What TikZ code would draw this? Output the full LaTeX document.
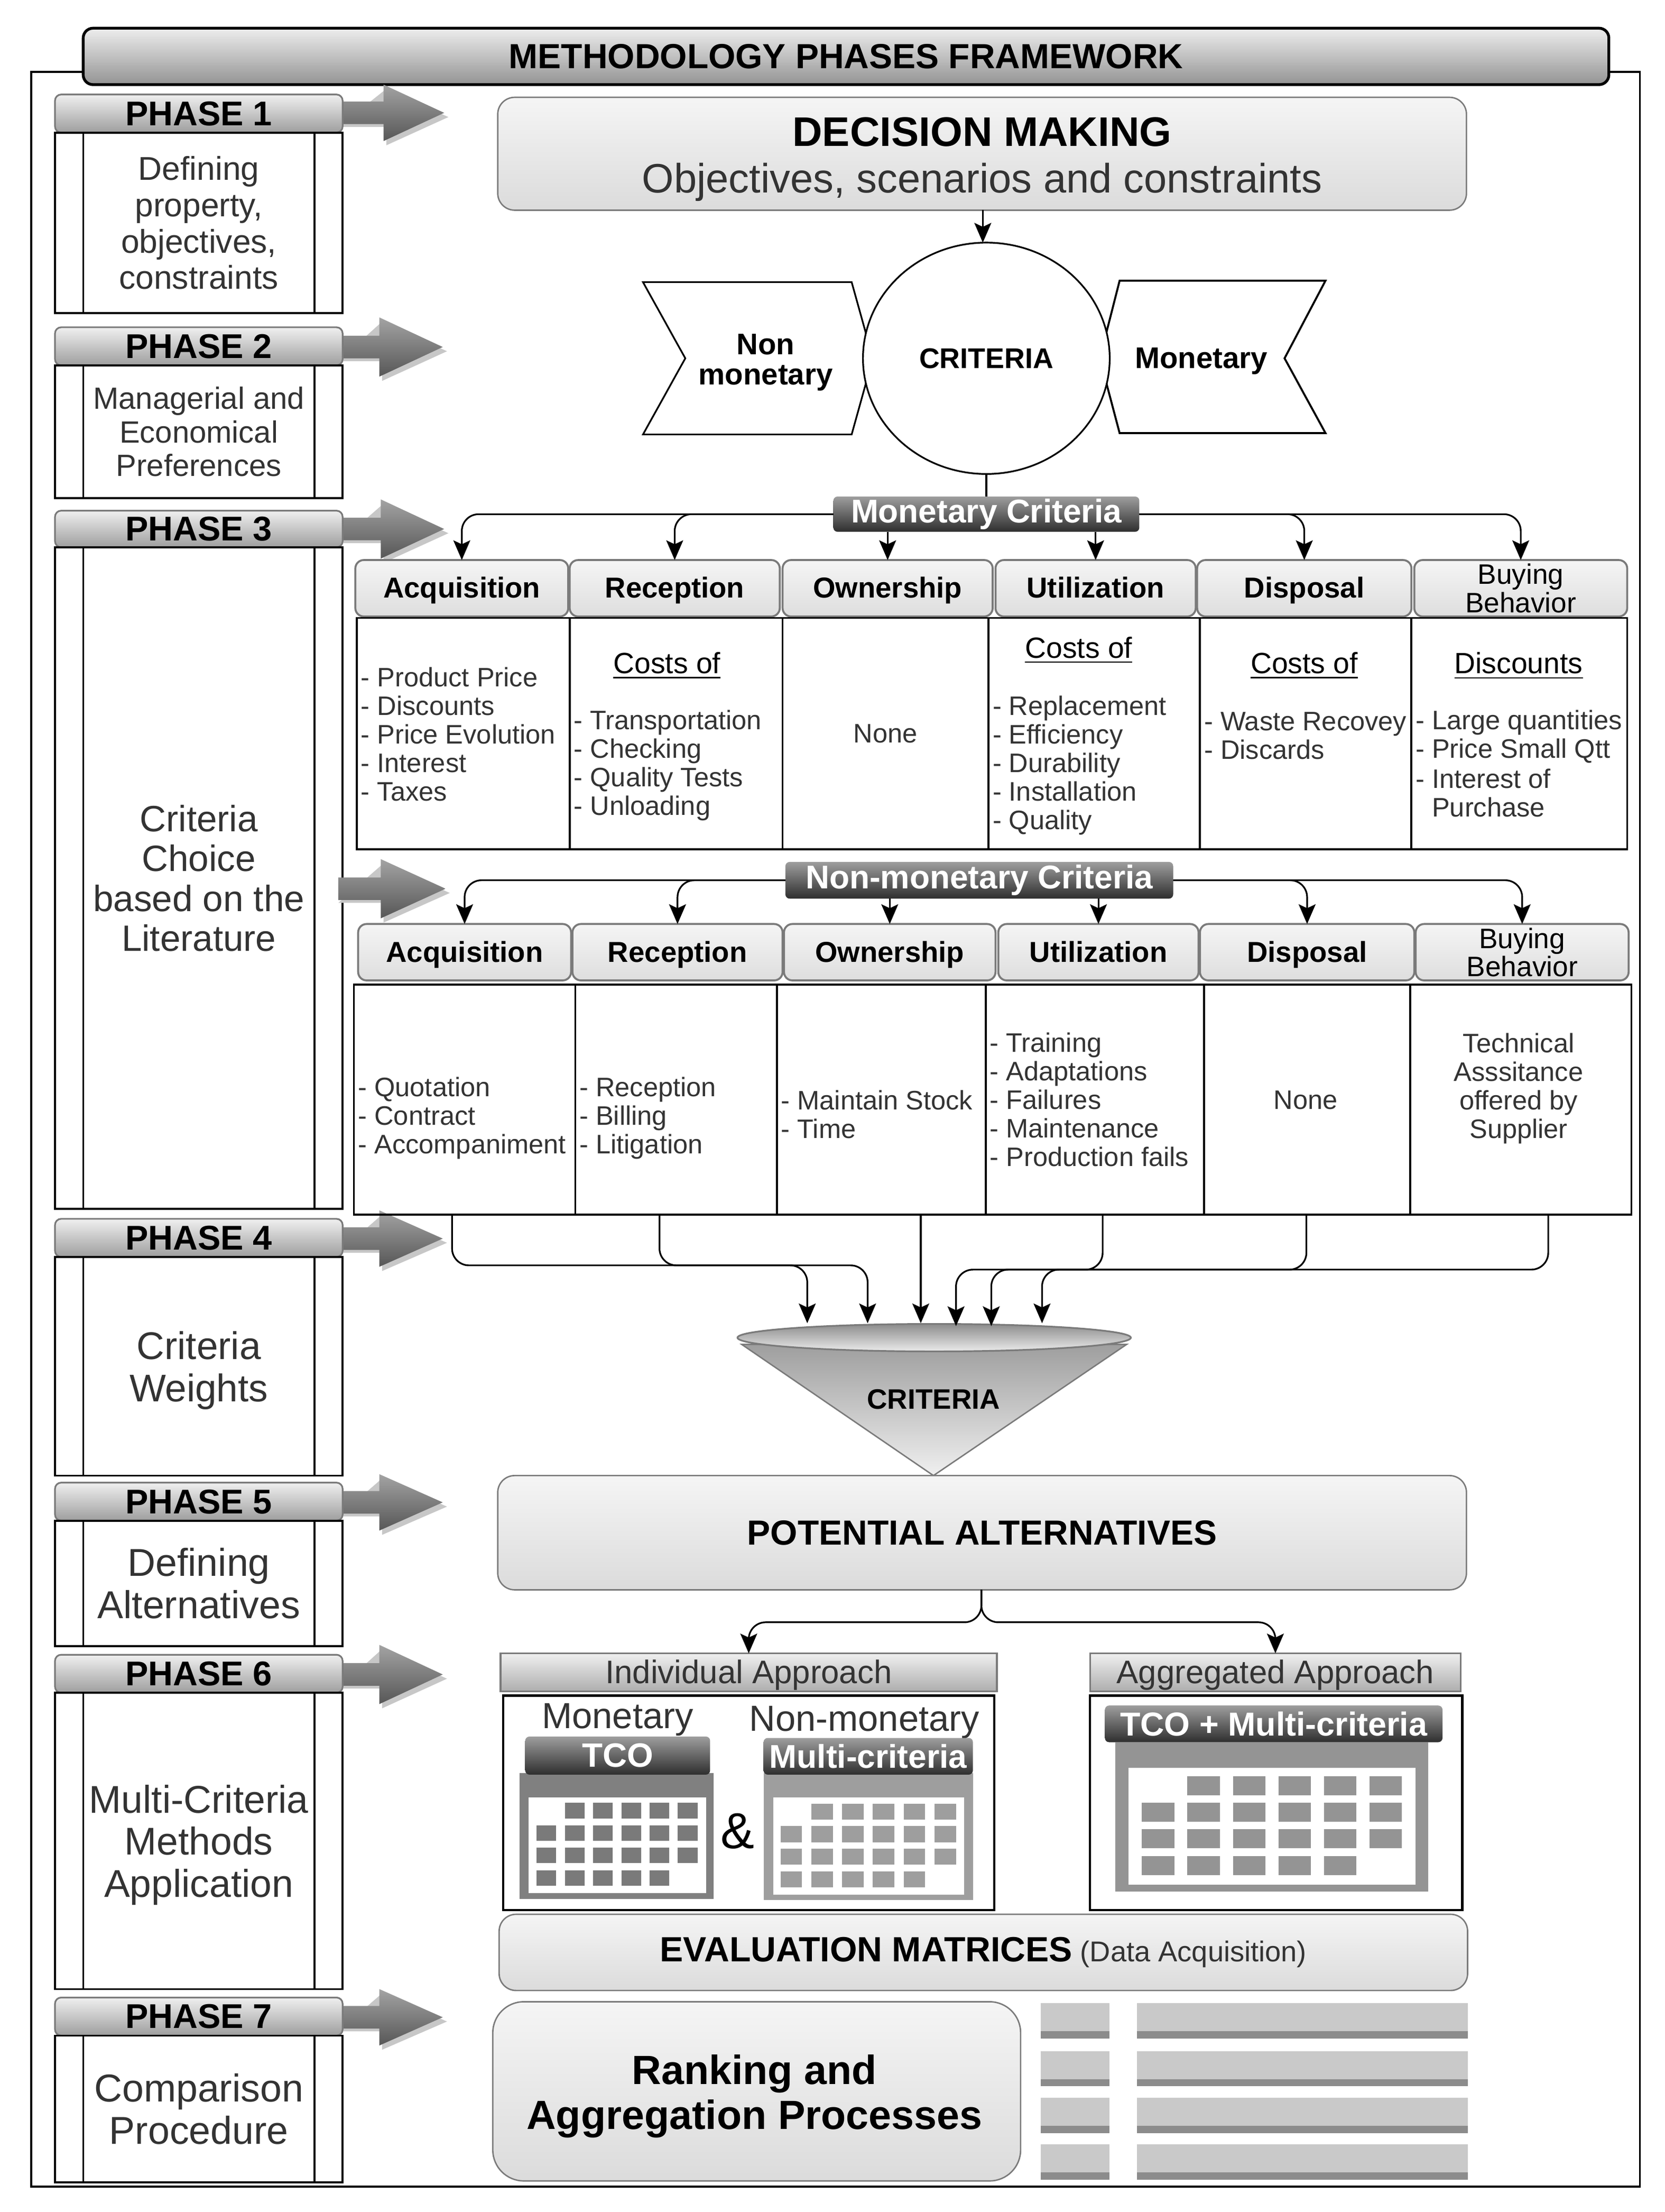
\documentclass[tikz,border=0pt]{standalone}
\usepackage{fontspec}
\setmainfont{Liberation Sans}
\usetikzlibrary{arrows.meta,shapes.geometric,calc}
\definecolor{tx}{HTML}{333333}
\definecolor{framegray}{HTML}{7A7A7A}
\newcommand{\fz}[2]{\fontsize{#1}{#2}\selectfont}
% box from two corners: style, name, x1,y1,x2,y2, text
\newcommand{\bx}[7]{\node[#1,minimum width={(#5-#3)*0.50135pt},minimum height={(#6-#4)*0.50135pt}] (#2) at ({(#3+#5)/2},{(#4+#6)/2}) {#7};}
\tikzset{
  base/.style={inner sep=0pt,outer sep=0pt,align=center},
  titlebar/.style={base,draw=black,line width=1pt,rounded corners=3.5pt,top color=black!7,bottom color=black!42,font=\fz{12.4}{15}\bfseries},
  phasehead/.style={base,draw=framegray,line width=0.6pt,rounded corners=2.2pt,top color=black!6,bottom color=black!38,font=\fz{12.2}{14}\bfseries},
  phasebody/.style={base,draw=black,line width=0.7pt,text=tx},
  softbox/.style={base,draw=framegray,line width=0.5pt,rounded corners=6pt,top color=black!4,bottom color=black!14},
  tabbase/.style={base,draw=framegray,line width=0.7pt,rounded corners=3pt,top color=black!4,bottom color=black!13},
  tabbox/.style={tabbase,font=\fz{10.25}{11.5}\bfseries,text height=9.4pt,text depth=2.46pt},
  tabtwo/.style={tabbase,font=\fz{10}{10}},
  cell/.style={base,draw=black,line width=0.7pt},
  celltext/.style={base,align=left,anchor=west,text=tx,font=\fz{9.5}{10.15}},
  centertext/.style={base,text=tx,font=\fz{9.5}{10.15}},
  headtext/.style={base,text=black,font=\fz{10.4}{12}},
  darklabel/.style={base,rounded corners=1.5pt,top color=black!38,bottom color=black!82,text=white,font=\fz{11.7}{14}\bfseries},
  approach/.style={base,draw=framegray,line width=0.6pt,top color=black!6,bottom color=black!32,text=tx,font=\fz{11.6}{14},text height=10pt,text depth=2pt},
  blackbox/.style={base,draw=black,line width=0.8pt},
  sidefig/.style={base,draw=black,line width=0.6pt,fill=white,font=\fz{10.1}{11}\bfseries},
  conn/.style={draw=black,line width=0.6pt,rounded corners=6pt,-{Stealth[length=7pt,width=6pt,inset=1.4pt]}},
  plainline/.style={draw=black,line width=0.6pt},
  bigarrow/.style={top color=black!36,bottom color=black!66,draw=none},
  bigshadow/.style={fill=black!22,draw=none},
  subhead/.style={base,text=tx,font=\fz{12.9}{15}},
}
% big side arrow: start x, centre y, head base x, tip x, head half height
\newcommand{\sidearrow}[5]{%
  \fill[bigshadow] (#1,#2+10) -- (#3+2,#2+10) -- (#3+2,#2+#5+3) -- (#4+3,#2+3) -- (#3+2,#2-#5+3) -- cycle;
  \path[bigarrow] (#1,#2-8) -- (#3,#2-8) -- (#3,#2-#5) -- (#4,#2) -- (#3,#2+#5) -- (#3,#2+8) -- (#1,#2+8) -- cycle;}
% phase: number, head top, head bottom, body bottom, font, text
\newcommand{\phase}[6]{%
  \bx{phasehead}{ph#1}{39}{#2}{243}{#3}{PHASE #1}
  \bx{phasebody,font=#5}{body#1}{39}{#3}{243}{#4}{#6}
  \draw[line width=0.7pt] (59,#3) -- (59,#4) (223,#3) -- (223,#4);}
% matrix of squares
\newcommand{\grid}[7]{%
  \foreach \r/\a/\b in {0/1/5,1/0/5,2/0/5,3/0/4}
    \foreach \c in {\a,...,\b}
      \fill[#7] ({#1+\c*#3},{#2+\r*#4}) rectangle ++(#5,#6);}
\begin{document}
\begin{tikzpicture}[x=0.50135pt,y=-0.50135pt]
\useasboundingbox (0,0) rectangle (1180.8,1568.05);
\fill[white] (0,0) rectangle (1180.8,1568.05);

% outer frame and title
\draw[line width=0.7pt] (22,51) rectangle (1163,1550);
\bx{titlebar}{title}{59}{20}{1141}{60}{METHODOLOGY PHASES FRAMEWORK}

% side arrows
\sidearrow{240}{80}{272}{315}{20}
\sidearrow{240}{246}{269}{314}{21}
\sidearrow{240}{375}{270}{315}{21}
\sidearrow{240}{878}{269}{314}{20}
\sidearrow{240}{1065}{269}{314}{20}
\sidearrow{240}{1187}{269}{314}{21}
\sidearrow{240}{1430}{269}{314}{20}

% phases
\phase{1}{67}{94}{222}{\fz{11.7}{12.9}}{Defining\\property,\\objectives,\\constraints}
\phase{2}{232}{259}{353}{\fz{10.9}{12}}{Managerial and\\Economical\\Preferences}
\phase{3}{362}{388}{857}{\fz{13}{14.2}}{Criteria\\Choice\\based on the\\Literature}
\phase{4}{864}{891}{1046}{\fz{13.7}{15}}{\rule{0pt}{13pt}Criteria\\Weights}
\phase{5}{1051}{1078}{1167}{\fz{13.8}{15}}{Defining\\Alternatives}
\phase{6}{1173}{1200}{1410}{\fz{13.75}{15}}{\rule{0pt}{12.85pt}Multi-Criteria\\Methods\\Application}
\phase{7}{1416}{1443}{1547}{\fz{13.8}{15}}{Comparison\\Procedure}
\sidearrow{240}{630}{270}{316}{21}

% decision making
\bx{softbox,font=\fz{14}{16.5}}{dm}{353}{69}{1040}{149}{\rule{0pt}{14.2pt}{\fz{14.7}{16.5}\bfseries DECISION MAKING}\\{\fz{14.6}{16.5}\color{tx}Objectives, scenarios and constraints}}

% criteria shapes
\filldraw[fill=white,line width=0.6pt] (456,200) -- (604,200) -- (619,254) -- (604,308) -- (456,308) -- (486,254) -- cycle;
\filldraw[fill=white,line width=0.7pt] (794,199) -- (940,199) -- (911,254) -- (940,307) -- (794,307) -- (780,254) -- cycle;
\bx{sidefig,ellipse}{crit}{612}{172}{787}{336}{CRITERIA}
\node[base,font=\fz{10.6}{10.8}\bfseries] (nonmon) at (543,257) {Non\\monetary};
\node[base,font=\fz{10.6}{10.8}\bfseries] (mon) at (852,256) {Monetary};
\coordinate (dmout) at (697,149);
\draw[conn] (dmout) -- (dmout |- crit.north);

% monetary criteria
\bx{darklabel}{mc}{591}{352}{808}{377}{Monetary Criteria}
\draw[plainline] (crit.south) -- (crit.south |- mc.north);
\bx{tabbox}{ta1}{252}{397}{403}{437}{Acquisition}
\bx{tabbox}{ta2}{404}{397}{553}{437}{Reception}
\bx{tabbox}{ta3}{555}{397}{704}{437}{Ownership}
\bx{tabbox}{ta4}{706}{397}{848}{437}{Utilization}
\bx{tabbox}{ta5}{849}{397}{1001}{437}{Disposal}
\bx{tabtwo}{ta6}{1003}{397}{1154}{437}{Buying\\Behavior}
\draw[conn] (mc.west) -| (ta1.north);
\draw[conn] (mc.west) -| (ta2.north);
\draw[conn] (ta3.north |- mc.south) -- (ta3.north);
\draw[conn] (ta4.north |- mc.south) -- (ta4.north);
\draw[conn] (mc.east) -| (ta5.north);
\draw[conn] (mc.east) -| (ta6.north);

% monetary table
\bx{cell}{a1}{253}{438}{404}{602}{}
\bx{cell}{a2}{404}{438}{555}{602}{}
\bx{cell}{a3}{555}{438}{701}{602}{}
\bx{cell}{a4}{701}{438}{851}{602}{}
\bx{cell}{a5}{851}{438}{1001}{602}{}
\bx{cell}{a6}{1001}{438}{1154}{602}{}
\node[celltext] (a1t) at (256,520.5) {- Product Price\\- Discounts\\- Price Evolution\\- Interest\\- Taxes};
\node[headtext] (a2h) at (473,472) {\underline{Costs of}};
\node[celltext] (a2t) at (407,542.5) {- Transportation\\- Checking\\- Quality Tests\\- Unloading};
\node[centertext] (a3t) at (628,520) {None};
\node[headtext] (a4h) at (765,461) {\underline{Costs of}};
\node[celltext] (a4t) at (704,542.5) {- Replacement\\- Efficiency\\- Durability\\- Installation\\- Quality};
\node[headtext] (a5h) at (925,472) {\underline{Costs of}};
\node[celltext] (a5t) at (854,521.5) {- Waste Recovey\\- Discards};
\node[headtext] (a6h) at (1077,472) {\underline{Discounts}};
\node[celltext] (a6t) at (1004,522) {- Large quantities\\- Price Small Qtt};
\node[celltext] (a6u) at (1004,562) {- Interest of\\\phantom{- }Purchase};

% non-monetary criteria
\bx{darklabel}{nmc}{557}{611}{832}{637}{Non-monetary Criteria}
\bx{tabbox}{tb1}{254}{655}{405}{695}{Acquisition}
\bx{tabbox}{tb2}{406}{655}{555}{695}{Reception}
\bx{tabbox}{tb3}{556}{655}{706}{695}{Ownership}
\bx{tabbox}{tb4}{708}{655}{850}{695}{Utilization}
\bx{tabbox}{tb5}{851}{655}{1003}{695}{Disposal}
\bx{tabtwo}{tb6}{1004}{655}{1155}{695}{Buying\\Behavior}
\draw[conn] (nmc.west) -| (tb1.north);
\draw[conn] (nmc.west) -| (tb2.north);
\draw[conn] (tb3.north |- nmc.south) -- (tb3.north);
\draw[conn] (tb4.north |- nmc.south) -- (tb4.north);
\draw[conn] (nmc.east) -| (tb5.north);
\draw[conn] (nmc.east) -| (tb6.north);

% non-monetary table
\bx{cell}{b1}{251}{698}{408}{861}{}
\bx{cell}{b2}{408}{698}{551}{861}{}
\bx{cell}{b3}{551}{698}{699}{861}{}
\bx{cell}{b4}{699}{698}{854}{861}{}
\bx{cell}{b5}{854}{698}{1000}{861}{}
\bx{cell}{b6}{1000}{698}{1157}{861}{}
\node[celltext] (b1t) at (254,792.5) {- Quotation\\- Contract\\- Accompaniment};
\node[celltext] (b2t) at (411,792.5) {- Reception\\- Billing\\- Litigation};
\node[celltext] (b3t) at (554,790) {- Maintain Stock\\- Time};
\node[celltext] (b4t) at (702,779.5) {- Training\\- Adaptations\\- Failures\\- Maintenance\\- Production fails};
\node[centertext] (b5t) at (926,780) {None};
\node[centertext] (b6t) at (1077,771.5) {Technical\\Asssitance\\offered by\\Supplier};

% funnel
\path[top color=black!38,bottom color=black!6,draw=framegray,line width=0.5pt] (526,953) -- (799,953) -- (662,1046) -- cycle;
\bx{base,ellipse,draw=framegray,line width=0.6pt,top color=black!45,middle color=black!33,bottom color=black!8}{rim}{523}{938.5}{802}{958}{}
\node[base,font=\fz{10}{12}\bfseries] (funnel) at (662,992) {CRITERIA};
\coordinate (o1) at (320.6,861); \coordinate (o2) at (467.7,861); \coordinate (o3) at (653,861);
\coordinate (o4) at (782,861); \coordinate (o5) at (926.5,861); \coordinate (o6) at (1098,861);
\coordinate (i1) at (572.5,938); \coordinate (i2) at (615.3,938); \coordinate (i3) at (653,938);
\coordinate (i4) at (678,940); \coordinate (i5) at (703,940); \coordinate (i6) at (739,938);
\coordinate (tl) at (0,897); \coordinate (tr) at (0,900);
\draw[conn] (o1) |- (tl -| i2) -- (i2);
\draw[conn] (o2) |- (tl -| i1) -- (i1);
\draw[conn] (o3) -- (i3);
\draw[conn] (o4) |- (tr -| i4) -- (i4);
\draw[conn] (o5) |- (tr -| i5) -- (i5);
\draw[conn] (o6) |- (tr -| i6) -- (i6);

% potential alternatives
\bx{softbox,font=\fz{12.4}{14}\bfseries}{pa}{353}{1046}{1040}{1127}{POTENTIAL ALTERNATIVES}
\bx{approach}{ia}{355}{1172}{707}{1199}{Individual Approach}
\bx{approach}{ag}{773}{1172}{1036}{1199}{Aggregated Approach}
\coordinate (split) at (696,1150);
\draw[conn] (pa.south -| split) |- (split -| ia.north) -- (ia.north);
\draw[conn] (pa.south -| split) |- (split -| ag.north) -- (ag.north);

% matrix panels
\bx{blackbox}{pl}{357}{1202}{705}{1354}{}
\bx{blackbox}{pr}{773}{1202}{1037}{1354}{}
\node[subhead] (mon2) at (438,1219) {Monetary};
\node[subhead] (nonmon2) at (613,1221) {Non-monetary};
\node[base,font=\fz{18}{20}] (amp) at (523,1298) {\&};

\fill[black!50] (368.5,1257) rectangle (506,1346);
\fill[white] (374.7,1274) rectangle (500.7,1342);
\grid{380.5}{1278}{20.05}{15.9}{14}{11}{black!52}
\bx{darklabel,font=\fz{12}{14}\bfseries}{tco}{372.5}{1231}{503.6}{1258}{TCO}

\fill[black!38] (541.5,1257) rectangle (690,1347);
\fill[white] (548.3,1274) rectangle (683.6,1343);
\grid{553.5}{1278.5}{21.84}{16}{15.3}{11.4}{black!38}
\bx{darklabel}{mcr}{541.5}{1232}{690}{1258}{Multi-criteria}

\fill[black!42] (790.8,1235) rectangle (1013,1341);
\fill[white] (800.5,1253) rectangle (1004,1336);
\grid{809.8}{1259}{32.3}{18.9}{23}{13.5}{black!42}
\bx{darklabel,font=\fz{11.8}{14}\bfseries}{tm}{783.6}{1209}{1023}{1235}{TCO + Multi-criteria}

% evaluation and ranking
\bx{softbox}{em}{354}{1357}{1040.8}{1411}{{\fz{12.45}{14}\bfseries EVALUATION MATRICES} {\fz{10.2}{14}\color{tx}(Data Acquisition)}}
\bx{softbox,rounded corners=11pt}{rk}{349.5}{1419}{723.8}{1546}{}
\node[base,font=\fz{14.5}{16.1}\bfseries] (rkt) at (535,1486) {Ranking and\\Aggregation Processes};
\foreach \y in {1420,1454,1487,1520}{
  \fill[black!21] (738,\y) rectangle (787,\y+20);
  \fill[black!45] (738,\y+20) rectangle (787,\y+25);
  \fill[black!21] (806.4,\y) rectangle (1040.8,\y+20);
  \fill[black!45] (806.4,\y+20) rectangle (1040.8,\y+25);
}
\end{tikzpicture}
\end{document}
